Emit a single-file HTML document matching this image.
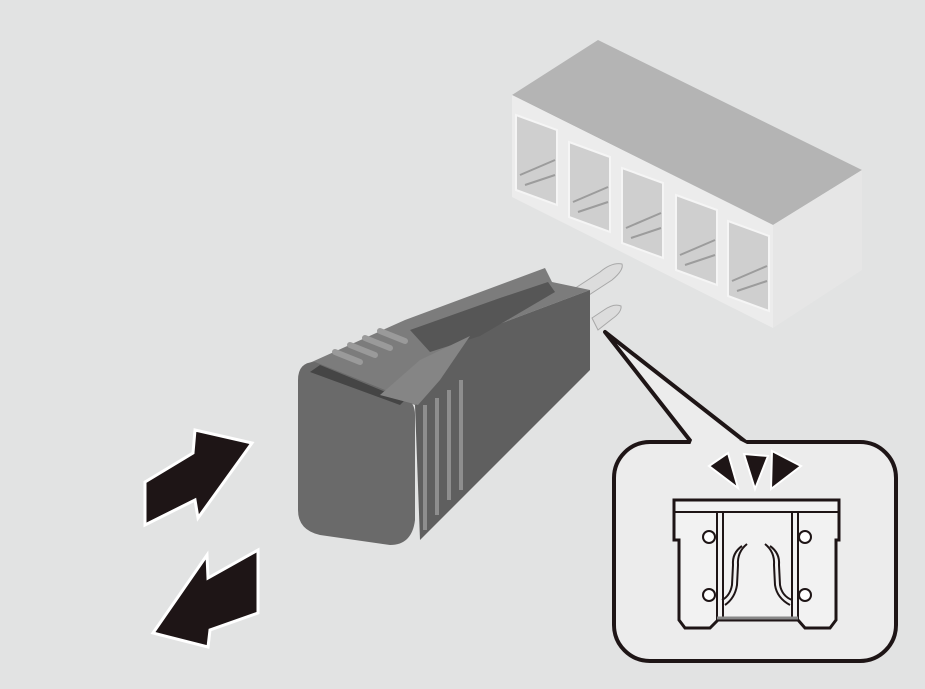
<!DOCTYPE html>
<html><head><meta charset="utf-8"><style>
html,body{margin:0;padding:0;background:#e2e3e3;}
svg{display:block}
</style></head><body>
<svg width="925" height="689" viewBox="0 0 925 689" xmlns="http://www.w3.org/2000/svg">
<rect width="925" height="689" fill="#e2e3e3"/>
<!-- connector block -->
<polygon points="512,95 598,40 862,170 773,225" fill="#b4b4b4"/>
<polygon points="512,95 773,225 773,328 512,197" fill="#ececec"/>
<polygon points="773,225 862,170 862,270 773,328" fill="#e6e6e6"/>
<g fill="#cfcfcf" stroke="#f5f5f5" stroke-width="2">
<polygon points="516,115 557,130 557,205 516,190"/>
<polygon points="569,142 610,157 610,232 569,217"/>
<polygon points="622,168 663,183 663,258 622,243"/>
<polygon points="676,195 717,210 717,285 676,270"/>
<polygon points="728,221 769,236 769,311 728,296"/>
</g>
<g stroke="#9c9c9c" stroke-width="2" fill="none">
<path d="M520,175 L555,160 M525,185 L555,175"/>
<path d="M573,202 L608,187 M578,212 L608,202"/>
<path d="M626,228 L661,213 M631,238 L661,228"/>
<path d="M680,255 L715,240 M685,265 L715,255"/>
<path d="M732,281 L767,266 M737,291 L767,281"/>
</g>
<!-- pins -->
<g fill="#dcdcdc" stroke="#a8a8a8" stroke-width="1">
<path d="M560,298 L600,272 Q612,262 622,264 Q624,270 612,280 L572,306 Z"/>
<path d="M592,318 L604,310 Q614,303 621,306 Q622,312 612,319 L598,330 Z"/>
</g>
<!-- tool body -->
<polygon points="305,365 405,320 545,268 552,282 590,290 470,335 415,405" fill="#7c7c7c"/>
<polygon points="470,335 590,290 590,370 480,480 420,540 415,405" fill="#5f5f5f"/>
<path d="M298,380 Q298,362 315,362 L405,398 Q415,402 415,415 L415,520 Q412,545 390,545 L320,535 Q298,530 298,510 Z" fill="#6a6a6a"/>
<path d="M310,372 L400,405 L405,400 L320,365 Z" fill="#454545"/>
<g stroke="#8e8e8e" stroke-width="4">
<line x1="425" y1="405" x2="425" y2="530"/>
<line x1="437" y1="398" x2="437" y2="515"/>
<line x1="449" y1="390" x2="449" y2="500"/>
<line x1="461" y1="380" x2="461" y2="490"/>
</g>
<g stroke="#9a9a9a" stroke-width="6" stroke-linecap="round">
<line x1="335" y1="352" x2="360" y2="362"/>
<line x1="350" y1="345" x2="375" y2="355"/>
<line x1="365" y1="338" x2="390" y2="348"/>
<line x1="380" y1="331" x2="405" y2="341"/>
</g>
<polygon points="410,330 500,298 548,282 555,292 480,336 430,352" fill="#565656"/>
<polygon points="380,395 420,360 470,336 440,380 418,405" fill="#858585"/>
<!-- arrows -->
<g fill="#1e1516" stroke="#fff" stroke-width="3" stroke-linejoin="miter">
<polygon points="145,482 193,453 195,430 252,443 198,518 195,500 145,525"/>
<polygon points="258,550 258,613 210,630 208,647 153,633 207,555 208,578"/>
</g>
<!-- callout pointer -->
<polygon points="605,332 692,443 747,443" fill="#ececec" stroke="#1e1516" stroke-width="4" stroke-linejoin="round"/>
<rect x="614" y="442" width="282" height="219" rx="36" fill="#ececec" stroke="#1e1516" stroke-width="4"/>
<polygon points="690,445 749,445 700,420" fill="#ececec"/>
<!-- triangles -->
<g fill="#1e1516" stroke="#fff" stroke-width="2">
<polygon points="709,466 728,453 738,488"/>
<polygon points="744,454 768,456 755,489"/>
<polygon points="772,451 801,466 771,489"/>
</g>
<!-- fuse -->
<g stroke="#1e1516" stroke-width="3" fill="#f2f2f2">
<path d="M674,500 L839,500 L839,540 L836,540 L836,620 L830,628 L805,628 L798,620 L718,620 L710,628 L685,628 L679,620 L679,540 L674,540 Z"/>
<line x1="674" y1="512" x2="839" y2="512" stroke-width="2"/>
<line x1="717" y1="512" x2="717" y2="620" stroke-width="2"/>
<line x1="723" y1="512" x2="723" y2="620" stroke-width="2"/>
<line x1="792" y1="512" x2="792" y2="620" stroke-width="2"/>
<line x1="798" y1="512" x2="798" y2="620" stroke-width="2"/>
<line x1="717" y1="618" x2="798" y2="618" stroke="#888" stroke-width="3"/>
</g>
<g stroke="#1e1516" stroke-width="2" fill="#fff">
<circle cx="709" cy="537" r="6"/><circle cx="709" cy="595" r="6"/>
<circle cx="805" cy="537" r="6"/><circle cx="805" cy="595" r="6"/>
</g>
<g stroke="#1e1516" stroke-width="2" fill="none">
<path d="M747,544 Q737,552 738,565 L737,585 Q735,598 725,605"/>
<path d="M742,546 Q732,553 733,565 L732,585 Q730,596 722,600"/>
<path d="M765,544 Q775,552 774,565 L775,585 Q777,598 790,605"/>
<path d="M770,546 Q780,553 779,565 L780,585 Q782,596 792,600"/>
</g>
</svg>
</body></html>
